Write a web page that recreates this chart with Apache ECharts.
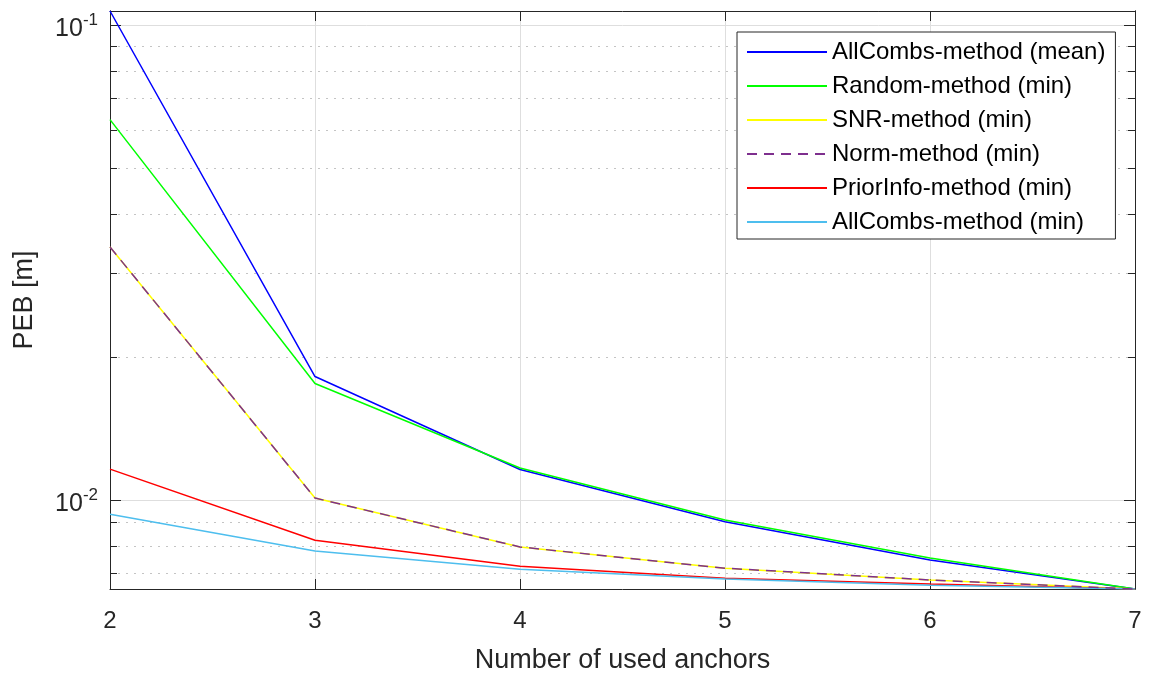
<!DOCTYPE html>
<html>
<head>
<meta charset="utf-8">
<script src="https://cdn.jsdelivr.net/npm/echarts@6/dist/echarts.min.js"></script>
<style>
  html, body { margin: 0; padding: 0; background: #fff; }
  #chart { width: 1154px; height: 673px; }
</style>
</head>
<body>
<div id="chart"></div>
<script>
// Number of anchors used for localisation
const anchors = [2, 3, 4, 5, 6, 7];

// Position error bound (PEB) in metres for each selection method
const allCombsMean = [0.107, 0.0182, 0.0116, 0.0090, 0.00748, 0.0065];
const randomMin    = [0.0632, 0.0176, 0.01168, 0.00908, 0.00755, 0.0065];
const snrMin       = [0.0341, 0.0101, 0.00797, 0.00719, 0.00679, 0.0065];
const normMin      = [0.0341, 0.0101, 0.00797, 0.00719, 0.00679, 0.0065];
const priorInfoMin = [0.01162, 0.00823, 0.00726, 0.00685, 0.00666, 0.0065];
const allCombsMin  = [0.00934, 0.00781, 0.00715, 0.00682, 0.00662, 0.0065];

// Log-axis ticks
const majorTicks = [0.01, 0.1];
const minorTicks = [0.007, 0.008, 0.009, 0.02, 0.03, 0.04, 0.05, 0.06, 0.07, 0.08, 0.09];
const yMin = 0.0065, yMax = 0.107;

const FONT = '"Liberation Sans", Arial, sans-serif';
const AX = '#262626';

function pairs(vals) { return anchors.map((a, i) => [a, vals[i]]); }

function logAxis(position, ticks, len, opts) {
  return Object.assign({
    type: 'log', logBase: 10, min: yMin, max: yMax, position: position,
    axisLine: { show: true, onZero: false, lineStyle: { color: AX, width: 1 } },
    axisTick: { show: true, inside: true, length: len, customValues: ticks, lineStyle: { color: AX, width: 1 } },
    axisLabel: { show: false },
    splitLine: { show: false }
  }, opts || {});
}

const chart = echarts.init(document.getElementById('chart'), null, { renderer: 'canvas' });

const lineSeries = (name, vals, color, z, dash) => ({
  name: name, type: 'line', data: pairs(vals), symbol: 'none', z: z,
  xAxisIndex: 0, yAxisIndex: 0,
  lineStyle: { color: color, width: 1.5, type: dash || 'solid' },
  itemStyle: { color: color },
  emphasis: { disabled: true }
});

chart.setOption({
  animation: false,
  backgroundColor: '#fff',
  grid: { left: 110, right: 19, top: 11, bottom: 84, containLabel: false, outerBoundsMode: 'none' },
  xAxis: [{
    type: 'value', min: 2, max: 7, interval: 1, position: 'bottom',
    name: 'Number of used anchors', nameLocation: 'middle', nameGap: 58,
    nameTextStyle: { fontFamily: FONT, fontSize: 27, color: AX },
    axisLine: { show: true, onZero: false, lineStyle: { color: AX, width: 1 } },
    axisTick: { show: true, inside: true, length: 10, lineStyle: { color: AX } },
    axisLabel: { fontFamily: FONT, fontSize: 24, color: AX, margin: 20 },
    splitLine: { show: true, lineStyle: { color: '#dedede', width: 1 } }
  }, {
    type: 'value', min: 2, max: 7, interval: 1, position: 'top',
    axisLine: { show: true, onZero: false, lineStyle: { color: AX, width: 1 } },
    axisTick: { show: true, inside: true, length: 10, lineStyle: { color: AX } },
    axisLabel: { show: false },
    splitLine: { show: false }
  }],
  yAxis: [
    logAxis('left', majorTicks, 11, {
      name: 'PEB [m]', nameLocation: 'middle', nameGap: 72, nameRotate: 90,
      nameTextStyle: { fontFamily: FONT, fontSize: 27, color: AX },
      axisLabel: {
        show: true, customValues: majorTicks, margin: 12,
        formatter: v => '{b|10}{s|' + Math.round(Math.log10(v)) + '}',
        rich: {
          b: { fontFamily: FONT, fontSize: 25, color: AX, lineHeight: 34, verticalAlign: 'bottom', padding: [8, 0, 0, 0] },
          s: { fontFamily: FONT, fontSize: 17, color: AX, lineHeight: 34, verticalAlign: 'top', padding: [4, 0, 0, 0] }
        }
      },
      splitLine: { show: true, lineStyle: { color: '#dedede', width: 1 } }
    }),
    logAxis('left', minorTicks, 7, {
      splitLine: { show: true, lineStyle: { color: '#c4c4c4', width: 1, type: [2, 6] } }
    }),
    logAxis('right', majorTicks, 11),
    logAxis('right', minorTicks, 7)
  ],
  legend: {
    orient: 'vertical', left: 737, top: 32,
    padding: [8, 10, 5, 9], itemGap: 10, itemWidth: 80, itemHeight: 2,
    backgroundColor: '#fff', borderColor: AX, borderWidth: 1,
    textStyle: { fontFamily: FONT, fontSize: 24, color: '#000', lineHeight: 24 },
    data: ['AllCombs-method (mean)', 'Random-method (min)', 'SNR-method (min)',
           'Norm-method (min)', 'PriorInfo-method (min)', 'AllCombs-method (min)']
  },
  series: [
    lineSeries('AllCombs-method (mean)', allCombsMean, '#0000ff', 3),
    lineSeries('Random-method (min)', randomMin, '#00ff00', 3),
    lineSeries('SNR-method (min)', snrMin, '#ffff00', 3),
    lineSeries('Norm-method (min)', normMin, '#7e2f8e', 4, [10, 7]),
    lineSeries('PriorInfo-method (min)', priorInfoMin, '#ff0000', 3),
    lineSeries('AllCombs-method (min)', allCombsMin, '#4dbeee', 3)
  ]
});
</script>
</body>
</html>
